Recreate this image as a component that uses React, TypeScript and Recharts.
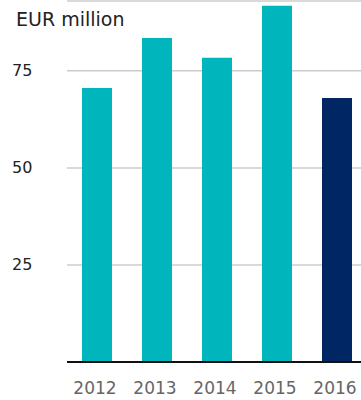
import { BarChart, Bar, XAxis, YAxis, CartesianGrid, Cell } from "recharts";

// EUR million per year
const years = ["2012", "2013", "2014", "2015", "2016"];
const values = [70.6, 83.5, 78.4, 91.8, 68.0];
const yTicks = [25, 50, 75];

const TEAL = "#00B5BC";
const NAVY = "#002663";

const data = years.map((year, i) => ({ year, value: values[i] }));

const YTick = ({ y, payload }: any) => (
  <text x={12} y={y} dominantBaseline="central" fontSize={16} fill="#222" fontFamily="DejaVu Sans">
    {payload.value}
  </text>
);

const XTick = ({ x, y, payload }: any) => (
  <text x={x - 2} y={y + 24} textAnchor="middle" fontSize={17} fill="#666" fontFamily="DejaVu Sans">
    {payload.value}
  </text>
);

export default function App() {
  return (
    <div style={{ position: "absolute", left: 0, top: 0, width: 361, height: 400, overflow: "hidden", background: "#fff" }}>
      <div style={{ position: "absolute", left: 16, top: 8, fontSize: 19, color: "#222", fontFamily: "DejaVu Sans" }}>
        EUR million
      </div>
      <BarChart width={367} height={400} data={data} margin={{ top: 1, right: 0, bottom: 0, left: 0 }} barSize={30}>
        <CartesianGrid vertical={false} stroke="#cccccc" strokeWidth={1.5} />
        <YAxis
          width={67}
          domain={[0, 93]}
          ticks={yTicks}
          axisLine={false}
          tickLine={false}
          tick={<YTick />}
          allowDataOverflow
        />
        <XAxis
          dataKey="year"
          height={38}
          axisLine={{ stroke: "#111", strokeWidth: 2 }}
          tickLine={false}
          tick={<XTick />}
        />
        <Bar dataKey="value" isAnimationActive={false}>
          {data.map((d, i) => (
            <Cell key={d.year} fill={i === data.length - 1 ? NAVY : TEAL} />
          ))}
        </Bar>
      </BarChart>
    </div>
  );
}
